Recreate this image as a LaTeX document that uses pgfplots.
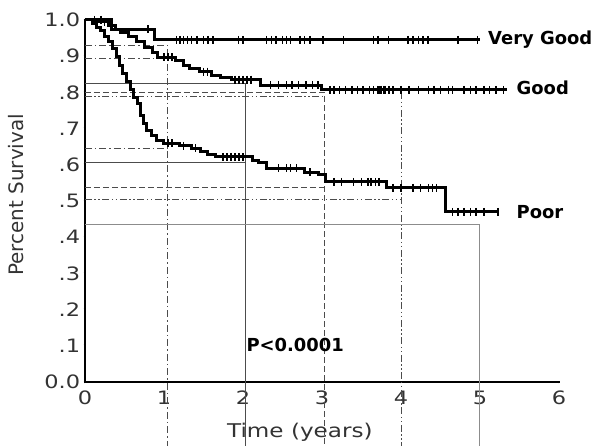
\documentclass[border=0pt]{standalone}
\usepackage{fontspec}
\setmainfont{DejaVu Sans}
\newfontfamily\wide[FakeStretch=1.22]{DejaVu Sans}
\usepackage{pgfplots}
\pgfplotsset{compat=1.18}
\tikzset{
  ref/.style={black!70, line width=0.9bp},
  dashdot/.style={ref, dash pattern=on 7bp off 3bp on 1.5bp off 3bp},
  dashdotdot/.style={ref, dash pattern=on 7bp off 2.5bp on 1.5bp off 2.5bp on 1.5bp off 2.5bp},
  dashed5/.style={ref, dash pattern=on 6bp off 3bp},
  curve/.style={black, line width=3bp, const plot, line join=miter},
  cens/.style={black, only marks, mark=|, mark size=4bp, mark options={line width=1.5bp}},
  lab/.style={font=\bfseries\fontsize{18}{20}\selectfont, anchor=west},
}
\begin{document}
\begin{tikzpicture}
\begin{axis}[
  scale only axis, width=474bp, height=362bp,
  xmin=0, xmax=6, ymin=0, ymax=1,
  axis x line=bottom, axis y line=left,
  axis line style={-, line width=1.8bp},
  xtick={0,1,2,3,4,5,6}, xticklabels={0,1,2,3,4,5,6},
  ytick={0,0.1,0.2,0.3,0.4,0.5,0.6,0.7,0.8,0.9,1.0},
  yticklabels={0.0,.1,.2,.3,.4,.5,.6,.7,.8,.9,1.0},
  tick style={line width=2.6bp, black}, major tick length=2.8bp, tick align=center,
  ticklabel style={font=\wide\fontsize{18.5}{20}\selectfont, text=black!80},
  xticklabel style={yshift=-4bp},
  clip=false,
  xlabel={Time (years)}, ylabel={Percent Survival},
  every axis x label/.style={at={(axis cs:2.72,-0.138)}, anchor=center,
    font=\wide\fontsize{19}{21}\selectfont, text=black!80},
  every axis y label/.style={at={(axis cs:-0.873,0.517)}, anchor=center, rotate=90,
    font=\fontsize{20}{22}\selectfont, text=black!80},
]
% reference lines at 1..5 years
\addplot[dashdot] coordinates {(0,0.93)(1.05,0.93)(1.05,-0.177)};
\addplot[dashdot] coordinates {(0,0.895)(1.05,0.895)};
\addplot[dashdot] coordinates {(0,0.644)(1.05,0.644)};
\addplot[ref] coordinates {(0,0.826)(2.03,0.826)(2.03,-0.177)};
\addplot[ref] coordinates {(0,0.607)(2.03,0.607)};
\addplot[dashed5] coordinates {(0,0.80)(3.03,0.80)(3.03,-0.177)};
\addplot[dashed5] coordinates {(0,0.537)(3.03,0.537)};
\addplot[dashdotdot] coordinates {(0,0.79)(3.03,0.79)};
\addplot[dashdotdot] coordinates {(4.01,0.80)(4.01,-0.177)};
\addplot[dashdotdot] coordinates {(0,0.505)(4.01,0.505)};
\addplot[black!45, line width=0.9bp] coordinates {(0,0.434)(4.99,0.434)(4.99,-0.177)};

% Very Good
\addplot[curve] coordinates {(0,1.0)(0.34,0.975)(0.88,0.945)(5.0,0.945)};
\addplot[cens] coordinates {(0.12,1.0)(0.2,1.0)(0.8,0.975)
  (1.16,0.945)(1.2,0.945)(1.25,0.945)(1.3,0.945)(1.35,0.945)(1.42,0.945)(1.5,0.945)(1.56,0.945)(1.62,0.945)
  (1.94,0.945)(2.0,0.945)(2.3,0.945)(2.36,0.945)(2.42,0.945)(2.5,0.945)(2.55,0.945)(2.6,0.945)
  (2.72,0.945)(2.78,0.945)(2.85,0.945)(3.01,0.945)(3.27,0.945)(3.65,0.945)(3.71,0.945)(3.84,0.945)
  (4.09,0.945)(4.15,0.945)(4.22,0.945)(4.28,0.945)(4.34,0.945)(4.72,0.945)(4.97,0.945)};

% Good
\addplot[curve] coordinates {(0,1.0)(0.15,0.995)(0.3,0.985)(0.38,0.975)(0.45,0.965)(0.55,0.955)
  (0.65,0.94)(0.75,0.925)(0.85,0.91)(0.92,0.897)(1.15,0.887)(1.25,0.875)(1.32,0.865)(1.45,0.857)
  (1.6,0.847)(1.72,0.84)(1.85,0.835)(2.22,0.82)(3.0,0.807)(5.34,0.807)};
\addplot[cens] coordinates {(0.25,0.995)(1.0,0.897)(1.05,0.897)(1.1,0.897)(1.5,0.857)(1.55,0.857)
  (1.9,0.835)(1.95,0.835)(2.0,0.835)(2.05,0.835)(2.1,0.835)
  (2.35,0.82)(2.45,0.82)(2.55,0.82)(2.62,0.82)(2.7,0.82)(2.8,0.82)(2.88,0.82)(2.95,0.82)
  (3.1,0.807)(3.15,0.807)(3.22,0.807)(3.3,0.807)(3.38,0.807)(3.45,0.807)(3.52,0.807)(3.6,0.807)
  (3.65,0.807)(3.7,0.807)(3.72,0.807)(3.75,0.807)(3.78,0.807)(3.8,0.807)(3.85,0.807)(3.9,0.807)
  (4.0,0.807)(4.1,0.807)(4.22,0.807)(4.35,0.807)(4.42,0.807)(4.5,0.807)(4.6,0.807)(4.65,0.807)
  (4.8,0.807)(4.88,0.807)(4.95,0.807)(5.05,0.807)(5.12,0.807)(5.2,0.807)(5.3,0.807)};

% Poor
\addplot[curve] coordinates {(0,1.0)(0.1,0.99)(0.15,0.98)(0.2,0.97)(0.25,0.955)(0.3,0.94)(0.35,0.92)
  (0.4,0.9)(0.44,0.875)(0.48,0.853)(0.52,0.83)(0.57,0.807)(0.62,0.785)(0.66,0.77)(0.7,0.735)
  (0.74,0.715)(0.78,0.696)(0.84,0.68)(0.91,0.668)(1.0,0.66)(1.2,0.652)(1.35,0.645)(1.46,0.636)
  (1.55,0.628)(1.65,0.622)(2.12,0.612)(2.2,0.605)(2.3,0.591)(2.78,0.58)(2.95,0.572)(3.05,0.553)
  (3.82,0.536)(4.56,0.47)(5.23,0.47)};
\addplot[cens] coordinates {(1.05,0.66)(1.1,0.66)(1.25,0.652)(1.4,0.645)(1.75,0.622)(1.8,0.622)
  (1.85,0.622)(1.9,0.622)(1.95,0.622)(2.0,0.622)(2.45,0.591)(2.55,0.591)(2.6,0.591)(2.68,0.591)
  (2.85,0.58)(3.15,0.553)(3.25,0.553)(3.4,0.553)(3.5,0.553)(3.58,0.553)(3.62,0.553)(3.68,0.553)
  (3.72,0.553)(3.9,0.536)(4.0,0.536)(4.15,0.536)(4.25,0.536)(4.35,0.536)(4.4,0.536)(4.45,0.536)
  (4.65,0.47)(4.72,0.47)(4.8,0.47)(4.88,0.47)(4.95,0.47)(5.05,0.47)(5.23,0.47)};

\node[lab] at (axis cs:5.06,0.945) {Very Good};
\node[lab] at (axis cs:5.42,0.812) {Good};
\node[lab] at (axis cs:5.42,0.47) {Poor};
\node[lab] at (axis cs:2.0,0.102) {P<0.0001};

\coordinate (bbll) at (axis cs:-1.076,-0.177);
\coordinate (bbur) at (axis cs:6.494,1.0552);
\end{axis}
\pgfresetboundingbox
\path (bbll) rectangle (bbur);
\end{tikzpicture}
\end{document}
